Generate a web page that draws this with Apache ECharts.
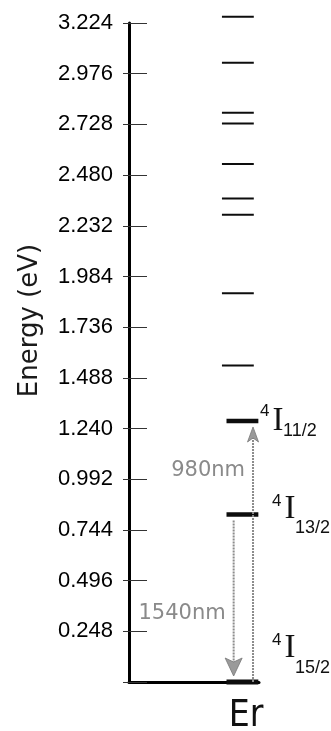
<!DOCTYPE html>
<html>
<head>
<meta charset="utf-8">
<script src="https://cdn.jsdelivr.net/npm/echarts@6.0.0/dist/echarts.min.js"></script>
<style>
  html, body { margin: 0; padding: 0; background: #fff; }
  #chart { width: 331px; height: 731px; }
</style>
</head>
<body>
<div id="chart"></div>
<script>
// Energy axis (eV)
const energyTicks = [0, 0.248, 0.496, 0.744, 0.992, 1.240, 1.488, 1.736, 1.984, 2.232, 2.480, 2.728, 2.976, 3.224];
const tickLabels = ['', '0.248', '0.496', '0.744', '0.992', '1.240', '1.488', '1.736', '1.984', '2.232', '2.480', '2.728', '2.976', '3.224'];

// Er3+ energy levels (eV)
const speciesName = 'Er';
const levelEnergies = [0, 0.82, 1.277, 1.548, 1.902, 2.286, 2.366, 2.534, 2.732, 2.785, 3.03, 3.255];

// Labelled multiplets: 4I(J)
const termEnergies = [0, 0.82, 1.277];
const termMultiplicity = ['4', '4', '4'];
const termLetter = ['I', 'I', 'I'];
const termJ = ['15/2', '13/2', '11/2'];

// Optical transitions (eV): pump up, emission down
const transitionFrom = [0, 0.82];
const transitionTo = [1.277, 0];
const transitionLabels = ['980nm', '1540nm'];

// ---- layout (x in axis units 0..1 along the baseline, offsets in px) ----
const axisMin = energyTicks[0];
const axisMax = energyTicks[energyTicks.length - 1];
const tickStep = energyTicks[1] - energyTicks[0];
const speciesX = 0.9;
const arrowX = [0.954, 0.805];
const arrowLabelAt = [0.81, 0.59];
const arrowHead = [{ half: 5.5, len: 15 }, { half: 8.5, len: 18 }];
const termLayout = [
  { dx: 0, dy: -33.5, sub: 19.5, sup: -8 },
  { dx: 0, dy: -5.5, sub: 19.5, sup: -8 },
  { dx: -12, dy: 0, sub: 10.5, sup: -9.5 }
];

const chart = echarts.init(document.getElementById('chart'), null, { renderer: 'canvas' });

const levelSeries = {
  type: 'custom',
  coordinateSystem: 'cartesian2d',
  clip: false,
  silent: true,
  dimensions: ['energy'],
  encode: { y: 0 },
  data: levelEnergies.map(e => [e]),
  renderItem(params, api) {
    const e = api.value(0);
    const major = termEnergies.indexOf(e) >= 0;
    const ground = e === 0;
    const y = api.coord([0, e])[1];
    const x0 = api.coord([major ? 0.75 : 0.715, e])[0];
    const x1 = api.coord([major ? 0.995 : 0.96, e])[0];
    return {
      type: 'line',
      shape: { x1: x0, y1: y, x2: x1, y2: y },
      style: { stroke: '#0d0d0d', lineWidth: ground ? 5 : (major ? 4.5 : 2) }
    };
  }
};

const transitionSeries = {
  type: 'custom',
  coordinateSystem: 'cartesian2d',
  clip: false,
  silent: true,
  dimensions: ['from', 'to'],
  encode: { y: [0, 1] },
  data: transitionFrom.map((f, i) => [f, transitionTo[i]]),
  renderItem(params, api) {
    const i = params.dataIndex;
    const from = api.value(0);
    const to = api.value(1);
    const x = api.coord([arrowX[i], from])[0];
    const yFrom = api.coord([arrowX[i], from])[1];
    const yTo = api.coord([arrowX[i], to])[1];
    const dir = yTo < yFrom ? -1 : 1;
    const gap = 6;
    const startY = from === 0 ? yFrom : yFrom + dir * gap;
    const tipY = yTo - dir * gap;
    const head = arrowHead[i];
    const grey = '#8c8c8c';
    const labelY = yFrom + (yTo - yFrom) * arrowLabelAt[i];
    return {
      type: 'group',
      children: [
        {
          type: 'line',
          shape: { x1: x, y1: startY, x2: x, y2: tipY - dir * 10 },
          style: { stroke: grey, lineWidth: 2, lineDash: [2, 1] }
        },
        {
          type: 'polygon',
          shape: {
            points: [
              [x, tipY],
              [x - head.half, tipY - dir * head.len],
              [x, tipY - dir * (head.len - 4)],
              [x + head.half, tipY - dir * head.len]
            ]
          },
          style: { fill: '#9a9a9a', stroke: '#777', lineWidth: 0.8 }
        },
        {
          type: 'text',
          x: x - 8,
          y: labelY,
          style: {
            text: transitionLabels[i],
            fill: '#8a8a8a',
            font: '21px "DejaVu Sans", sans-serif',
            align: 'right',
            verticalAlign: 'middle'
          }
        }
      ]
    };
  }
};

const termSeries = {
  type: 'custom',
  coordinateSystem: 'cartesian2d',
  clip: false,
  silent: true,
  dimensions: ['energy'],
  encode: { y: 0 },
  data: termEnergies.map(e => [e]),
  renderItem(params, api) {
    const i = params.dataIndex;
    const e = api.value(0);
    const lay = termLayout[i];
    const yLevel = api.coord([0, e])[1];
    const xEnd = api.coord([1, e])[0];
    const cy = yLevel + lay.dy;
    const cx = xEnd + 31 + lay.dx;
    return {
      type: 'group',
      children: [
        {
          type: 'text', x: cx - 18, y: cy + lay.sup,
          style: { text: termMultiplicity[i], fill: '#111', font: '17px "Liberation Sans", Arial, sans-serif', align: 'left', verticalAlign: 'middle' }
        },
        {
          type: 'text', x: cx, y: cy,
          style: { text: termLetter[i], fill: '#111', font: '33px "Liberation Serif", "Times New Roman", serif', align: 'center', verticalAlign: 'middle' }
        },
        {
          type: 'text', x: cx + 5, y: cy + lay.sub,
          style: { text: termJ[i], fill: '#111', font: '18px "Liberation Sans", Arial, sans-serif', align: 'left', verticalAlign: 'middle' }
        }
      ]
    };
  }
};

const option = {
  backgroundColor: '#fff',
  animation: false,
  grid: { left: 129, right: 72, top: 23, bottom: 49, containLabel: false, outerBoundsMode: 'none' },
  xAxis: {
    type: 'value', min: 0, max: 1, interval: 0.1,
    axisLine: { show: true, lineStyle: { color: '#000', width: 3 } },
    axisTick: { show: false },
    splitLine: { show: false },
    axisLabel: {
      margin: 16,
      color: '#111',
      fontFamily: '"Liberation Sans Narrow", "DejaVu Sans Condensed", "Liberation Sans", sans-serif',
      fontSize: 37,
      showMinLabel: true, showMaxLabel: true,
      formatter: v => (Math.abs(v - speciesX) < 1e-6 ? speciesName : '')
    }
  },
  yAxis: [
    {
      type: 'value', min: axisMin, max: axisMax, interval: tickStep,
      axisLine: { show: true, lineStyle: { color: '#000', width: 3 } },
      axisTick: { show: true, inside: true, length: 18, lineStyle: { color: '#333', width: 1 } },
      splitLine: { show: false },
      axisLabel: {
        margin: 16,
        color: '#000',
        fontFamily: '"Liberation Sans", Arial, sans-serif',
        fontSize: 22,
        formatter: (v, idx) => tickLabels[idx]
      },
      name: 'Energy (eV)',
      nameLocation: 'middle',
      nameRotate: 90,
      nameGap: 86,
      nameTextStyle: {
        color: '#1a1a1a',
        fontFamily: '"DejaVu Sans", sans-serif',
        fontSize: 26,
        padding: [0, 0, 0, 64]
      }
    },
    {
      // short outer stub of every tick
      type: 'value', min: axisMin, max: axisMax, interval: tickStep, position: 'left',
      axisLine: { show: false },
      axisTick: { show: true, inside: false, length: 6, lineStyle: { color: '#333', width: 1 } },
      axisLabel: { show: false },
      splitLine: { show: false }
    }
  ],
  series: [levelSeries, transitionSeries, termSeries]
};

chart.setOption(option);
</script>
</body>
</html>
